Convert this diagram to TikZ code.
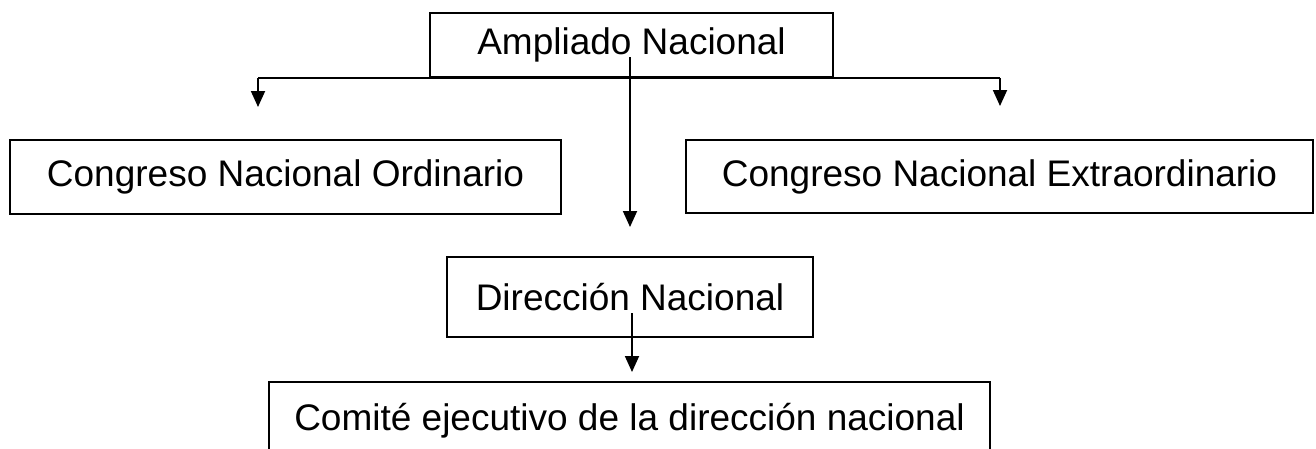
\documentclass[tikz,border=0pt]{standalone}
\usepackage{fontspec}
\setmainfont{Liberation Sans}
\usetikzlibrary{arrows.meta}
\begin{document}
\begin{tikzpicture}[x=1pt,y=-1pt,line width=1.8pt,
box/.style={draw,rectangle,inner sep=0pt,font=\fontsize{37}{44}\selectfont},
arr/.style={-{Triangle[length=16pt,width=14pt]}}]
\path[use as bounding box] (0,0) rectangle (1316,448);
\node[box,minimum width=403,minimum height=64](amp) at (631.5,45){Ampliado Nacional};
\node[box,minimum width=551,minimum height=74](cno) at (285.5,177){Congreso Nacional Ordinario};
\node[box,minimum width=627,minimum height=73](cne) at (999.5,176.5){Congreso Nacional Extraordinario};
\node[box,minimum width=366,minimum height=80](dn) at (630,297){Direcci\'on Nacional};
\node[box,minimum width=721,minimum height=78](cen) at (629.5,421){Comit\'e ejecutivo de la direcci\'on nacional};
\coordinate(tl) at (258,107);
\coordinate(tr) at (1000,106);
\coordinate(ctop) at (630,57);
\coordinate(ctip) at (630,227);
\coordinate(dtop) at (632,313);
\coordinate(dtip) at (632,372);
\draw(tl|-amp.south)--(tr|-amp.south);
\draw[arr](tl|-amp.south)--(tl);
\draw[arr](tr|-amp.south)--(tr);
\draw[arr](ctop)--(ctip);
\draw[arr](dtop)--(dtip);
\end{tikzpicture}
\end{document}
